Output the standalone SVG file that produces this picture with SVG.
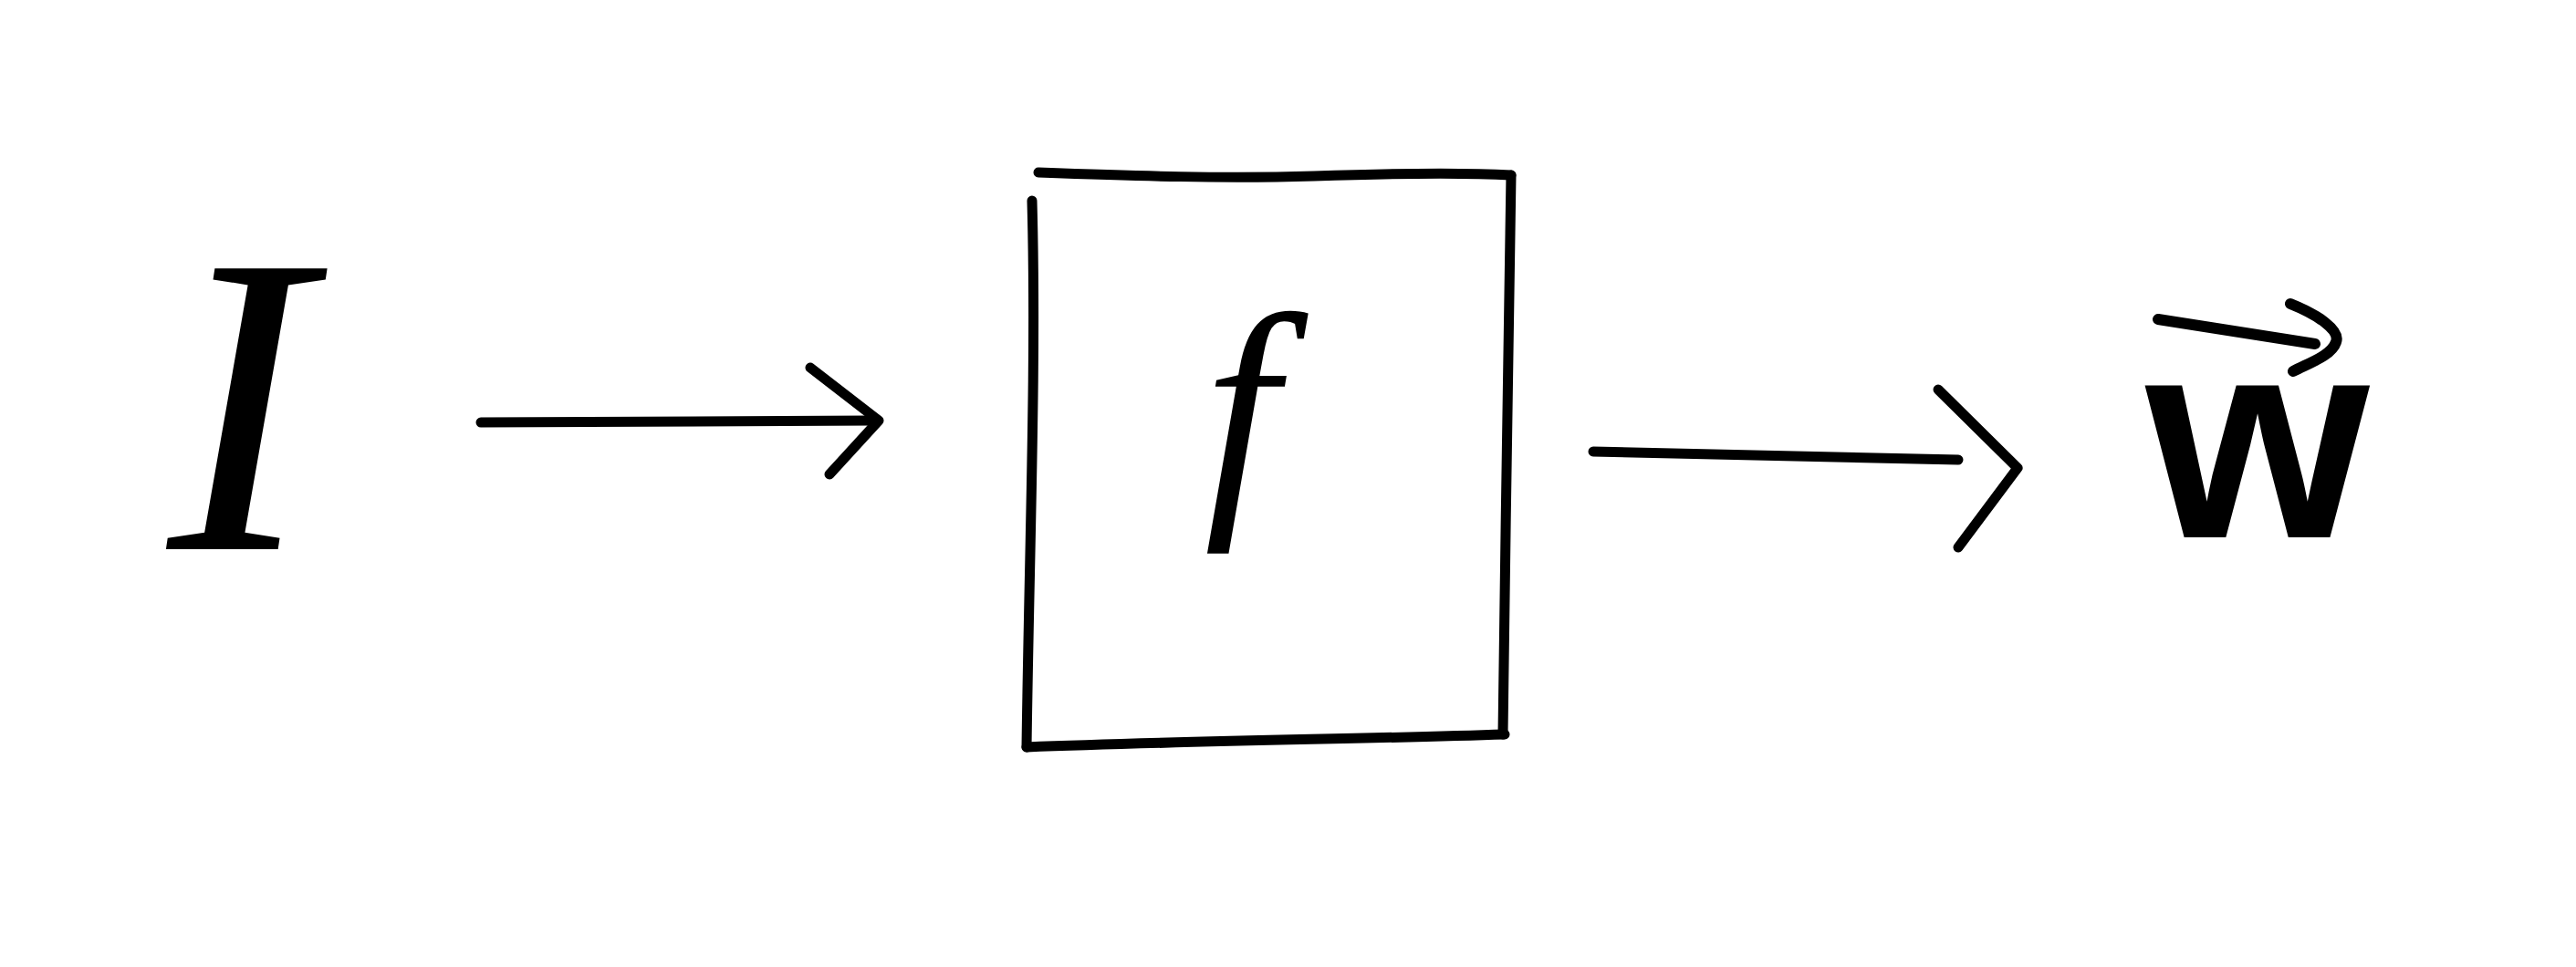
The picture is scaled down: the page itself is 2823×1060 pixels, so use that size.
<svg xmlns="http://www.w3.org/2000/svg" width="2823" height="1060" viewBox="0 0 2823 1060">
<style>
.ink{fill:none;stroke:#000;stroke-width:11;stroke-linecap:round;stroke-linejoin:round}
.lbl{font-family:"Liberation Serif","DejaVu Serif",serif;font-style:italic;fill:#000}
.vec{font-family:"Liberation Sans","DejaVu Sans",sans-serif;font-weight:bold;fill:#000}
</style>
<rect width="2823" height="1060" fill="#fff"/>
<g id="input">
<text class="lbl" x="262" y="602" font-size="470" text-anchor="middle">I</text>
</g>
<g id="function">
<path class="ink" d="M1138,189 C1250,193 1340,196 1440,193 C1530,190 1600,189 1656,192"/>
<path class="ink" d="M1131,220 C1136,400 1128,600 1125,819"/>
<path class="ink" d="M1125,819 C1300,812 1500,810 1649,805"/>
<path class="ink" d="M1656,192 C1652,400 1650,600 1647,805"/>
<text class="lbl" x="1360" y="545" font-size="290" text-anchor="middle">f</text>
</g>
<g id="output">
<text class="vec" x="2474" y="589" font-size="315" text-anchor="middle">w</text>
<path class="ink" style="stroke-width:12" d="M2365,350 L2537,377"/>
<path class="ink" style="stroke-width:12" d="M2510,333 C2540,345 2565,362 2560,375 C2555,390 2530,398 2513,407"/>
</g>
<g id="connectors">
<path class="ink" d="M527,463 L954,461"/>
<path class="ink" d="M888,403 L963,461 L909,520"/>
<path class="ink" d="M1746,495 L2146,504"/>
<path class="ink" d="M2124,427 L2211,513 L2146,600"/>
</g>
</svg>
